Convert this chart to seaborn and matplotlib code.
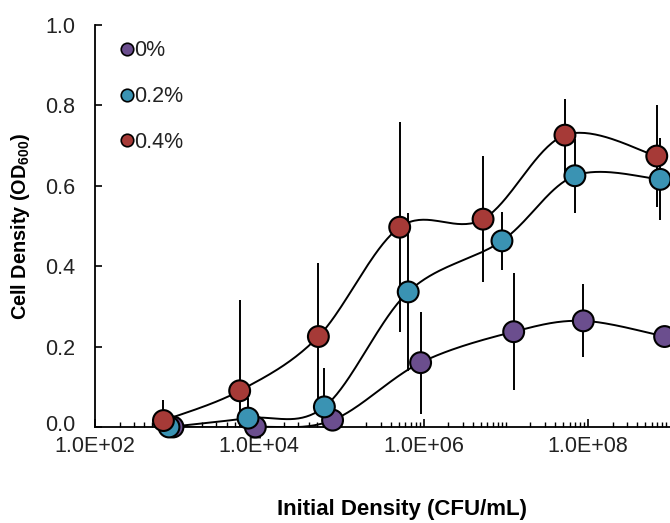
import numpy as np
import pandas as pd
import matplotlib
matplotlib.use("Agg")
import matplotlib.pyplot as plt
import matplotlib.transforms as mtransforms
import seaborn as sns
from matplotlib.lines import Line2D
from matplotlib.ticker import FixedLocator, FixedFormatter, NullFormatter

sns.set_theme(style="white")
plt.rcParams['font.family'] = ['Liberation Sans', 'DejaVu Sans']
plt.rcParams['mathtext.fontset'] = 'custom'
plt.rcParams['mathtext.bf'] = 'Liberation Sans:bold'
plt.rcParams['mathtext.rm'] = 'Liberation Sans'

# ---- data ----
series_labels = ["0%", "0.2%", "0.4%"]
colors = ["#6B4E8E", "#3A93B3", "#A63A37"]

x_0 = [890, 8.95e3, 7.8e4, 9.2e5, 1.25e7, 8.8e7, 8.6e8]
y_0 = [0.0, 0.0, 0.017, 0.160, 0.237, 0.264, 0.225]
e_0 = [0.0, 0.0, 0.0, 0.127, 0.145, 0.091, 0.02]

x_02 = [796, 7.3e3, 6.2e4, 6.5e5, 9.0e6, 6.95e7, 7.6e8]
y_02 = [0.0, 0.022, 0.050, 0.336, 0.463, 0.625, 0.616]
e_02 = [0.0, 0.05, 0.097, 0.197, 0.073, 0.092, 0.102]

x_04 = [681, 5.77e3, 5.24e4, 5.12e5, 5.3e6, 5.26e7, 6.9e8]
y_04 = [0.016, 0.090, 0.225, 0.497, 0.517, 0.726, 0.674]
e_04 = [0.052, 0.226, 0.183, 0.261, 0.157, 0.091, 0.127]

xs = [x_0, x_02, x_04]
ys = [y_0, y_02, y_04]
es = [e_0, e_02, e_04]

x_major = [1e2, 1e4, 1e6, 1e8]
x_major_labels = ["1.0E+02", "1.0E+04", "1.0E+06", "1.0E+08"]
y_ticks = [0.0, 0.2, 0.4, 0.6, 0.8, 1.0]

df = pd.concat([
    pd.DataFrame({"x": x, "y": y, "err": e, "series": lab})
    for x, y, e, lab in zip(xs, ys, es, series_labels)
], ignore_index=True)


def smooth_curve(x, y, n=40):
    """Catmull-Rom style Bezier smoothing (Excel-like) in log-x space."""
    lx = np.log10(np.asarray(x, float))
    yy = np.asarray(y, float)
    P = np.column_stack([lx, yy])
    out = []
    m = len(P)
    t = np.linspace(0, 1, n)[:, None]
    for i in range(m - 1):
        p0 = P[i]
        p3 = P[i + 1]
        pm = P[i - 1] if i > 0 else P[i]
        pp = P[i + 2] if i + 2 < m else P[i + 1]
        c1 = p0 + (p3 - pm) / 6.0
        c2 = p3 - (pp - p0) / 6.0
        seg = ((1 - t) ** 3) * p0 + 3 * ((1 - t) ** 2) * t * c1 + 3 * (1 - t) * t ** 2 * c2 + t ** 3 * p3
        out.append(seg if i == 0 else seg[1:])
    c = np.vstack(out)
    return 10 ** c[:, 0], c[:, 1]


fig = plt.figure(figsize=(6.7, 5.23), dpi=100)
ax = fig.add_axes([0.1418, 0.1836, 0.8582, 0.7686])

for x, y, e in zip(xs, ys, es):
    cx, cy = smooth_curve(x, y)
    ax.plot(cx, cy, color="black", lw=1.4, zorder=2)
    ax.errorbar(x, y, yerr=e, fmt="none", ecolor="black", elinewidth=1.4,
                capsize=0, zorder=2)

sns.scatterplot(data=df, x="x", y="y", hue="series", palette=colors,
                hue_order=series_labels, s=225, edgecolor="black",
                linewidth=1.5, ax=ax, legend=False, zorder=4, clip_on=False)

ax.set_xscale("log")
ax.set_xlim(1e2, 1e9)
ax.set_ylim(0, 1.0)

ax.xaxis.set_major_locator(FixedLocator(x_major))
ax.xaxis.set_major_formatter(FixedFormatter(x_major_labels))
minors = [k * 10 ** d for d in range(2, 9) for k in range(1, 10)
          if not (k == 1 and d % 2 == 0)]
ax.xaxis.set_minor_locator(FixedLocator(minors))
ax.xaxis.set_minor_formatter(NullFormatter())
ax.set_yticks(y_ticks)
ax.set_yticklabels([f"{v:.1f}" for v in y_ticks])

for s in ["top", "right"]:
    ax.spines[s].set_visible(False)
for s in ["left", "bottom"]:
    ax.spines[s].set_color("black")
    ax.spines[s].set_linewidth(1.3)

ax.tick_params(axis="x", which="major", direction="in", length=6, width=1.2,
               color="black", labelsize=15.5, pad=6.5, bottom=True)
ax.tick_params(axis="x", which="minor", direction="in", length=3.5, width=1.0,
               color="black", bottom=True)
ax.tick_params(axis="y", which="major", direction="in", length=5, width=1.2,
               color="black", labelsize=15.5, pad=14, left=True)
for lab in ax.get_xticklabels() + ax.get_yticklabels():
    lab.set_color("#222222")

# nudge the bottom "0.0" label up slightly so it doesn't collide with 1.0E+02
fig.canvas.draw()
zero_lab = ax.get_yticklabels()[0]
zero_lab.set_transform(zero_lab.get_transform() +
                       mtransforms.ScaledTranslation(0, 4 / 100, fig.dpi_scale_trans))

ax.set_xlabel("Initial Density (CFU/mL)", fontsize=16, fontweight="bold",
              color="black", va="center")
ax.xaxis.set_label_coords(0.534, -0.206)
ax.set_ylabel(r"Cell Density (OD$_{\mathbf{600}}$)", fontsize=14.3,
              fontweight="bold", color="black", va="center")
ax.yaxis.set_label_coords(-0.13, 0.5)

handles = [Line2D([0], [0], marker="o", linestyle="none", markersize=9,
                  markerfacecolor=c, markeredgecolor="black",
                  markeredgewidth=1.2) for c in colors]
leg = ax.legend(handles, series_labels, loc="upper left",
                bbox_to_anchor=(0.02, 1.0), frameon=False, fontsize=15.5,
                handlelength=0.5, handletextpad=0.1, labelspacing=1.16,
                borderpad=0.2)
for t in leg.get_texts():
    t.set_color("#222222")

fig.savefig("out.png", dpi=100)
